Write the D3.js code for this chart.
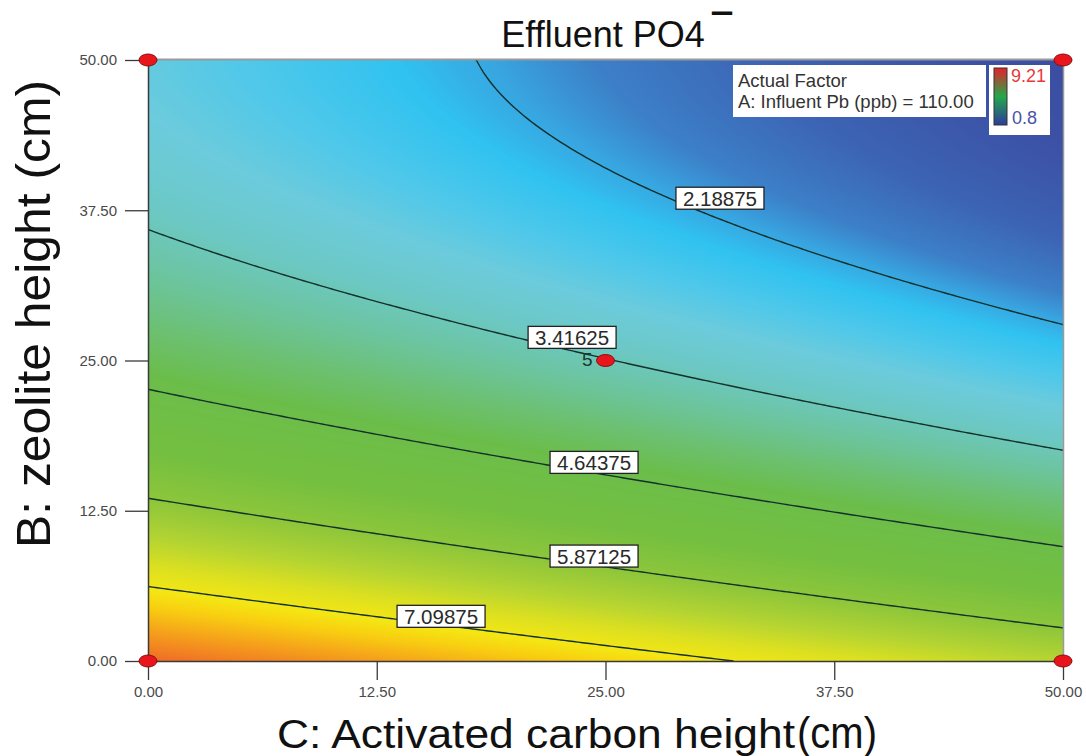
<!DOCTYPE html>
<html>
<head>
<meta charset="utf-8">
<script src="https://cdn.jsdelivr.net/npm/d3@7"></script>
<style>
  body { margin: 0; background: #fff; }
  svg { display: block; }
  text { font-family: "Liberation Sans", Arial, Helvetica, sans-serif; }
</style>
</head>
<body>
<svg id="chart" width="1086" height="756"></svg>
<script>
// Response grid: effluent PO4 over C (activated carbon height, columns) and B (zeolite height, rows, bottom to top)
const gridC = [0, 5, 10, 15, 20, 25, 30, 35, 40, 45, 50];
const gridB = [0, 5, 10, 15, 20, 25, 30, 35, 40, 45, 50];
const effluent = [
  [8.298, 8.110, 7.923, 7.735, 7.548, 7.360, 7.173, 6.985, 6.798, 6.610, 6.423],
  [7.319, 7.132, 6.944, 6.757, 6.569, 6.382, 6.194, 6.007, 5.819, 5.632, 5.444],
  [6.437, 6.250, 6.062, 5.875, 5.687, 5.500, 5.312, 5.125, 4.937, 4.750, 4.562],
  [5.652, 5.465, 5.277, 5.090, 4.902, 4.715, 4.527, 4.340, 4.152, 3.965, 3.777],
  [4.964, 4.776, 4.589, 4.401, 4.214, 4.026, 3.839, 3.651, 3.464, 3.276, 3.089],
  [4.372, 4.184, 3.997, 3.809, 3.622, 3.434, 3.247, 3.059, 2.872, 2.684, 2.497],
  [3.876, 3.689, 3.501, 3.314, 3.126, 2.939, 2.751, 2.564, 2.376, 2.189, 2.001],
  [3.478, 3.290, 3.103, 2.915, 2.728, 2.540, 2.353, 2.165, 1.978, 1.790, 1.603],
  [3.176, 2.988, 2.801, 2.613, 2.426, 2.238, 2.051, 1.863, 1.676, 1.488, 1.301],
  [2.970, 2.783, 2.595, 2.408, 2.220, 2.033, 1.845, 1.658, 1.470, 1.283, 1.095],
  [2.862, 2.674, 2.487, 2.299, 2.112, 1.924, 1.737, 1.549, 1.362, 1.174, 0.987]
];

// Contour levels and the C value where each level's label sits
const levels = [2.18875, 3.41625, 4.64375, 5.87125, 7.09875];
const labelC = [28.85, 20.77, 21.97, 21.97, 13.61];

// Design points (C, B) and replicate count
const designPoints = [
  { c: 0, b: 0, n: 1 }, { c: 50, b: 0, n: 1 },
  { c: 0, b: 50, n: 1 }, { c: 50, b: 50, n: 1 },
  { c: 25, b: 25, n: 5 }
];

const axisTicks = [0, 12.5, 25, 37.5, 50];
const legendLines = ["Actual Factor", "A: Influent Pb (ppb) = 110.00"];
const rangeMax = 9.21, rangeMin = 0.8;

// Colour ramp for the response surface
const rampValues = [0.8, 1.2, 1.6, 1.95, 2.15, 2.35, 2.65, 2.95, 3.3, 3.7, 4.1, 4.5, 5.3, 5.9, 6.4, 6.8, 7.15, 7.4, 7.7, 8.0, 8.3];
const rampColors = ["#3a4a9e", "#3c52a6", "#3c64b4", "#3c80c8", "#38a4e0", "#30c2f0", "#4ec8ea", "#6ccbdc",
                    "#6cc8c4", "#6cc49c", "#6cc070", "#6bbd4a", "#74bf40", "#8ec63a", "#b4d432", "#dce020",
                    "#f4e614", "#f8d010", "#f6ac18", "#f38a20", "#ee6a28"];

const svg = d3.select("#chart");
const L = 148, R = 1063, T = 60, B = 661;
const x = d3.scaleLinear().domain([0, 50]).range([L, R]);
const y = d3.scaleLinear().domain([0, 50]).range([B, T]);
const color = d3.scaleLinear().domain(rampValues).range(rampColors).interpolate(d3.interpolateRgb).clamp(true);

// Grid padded by one ring (quadratic extrapolation) for Catmull-Rom sampling
const nG = gridC.length;
function extend(a) {
  const n = a.length - 1;
  return [3 * a[0] - 3 * a[1] + a[2], ...a, 3 * a[n] - 3 * a[n - 1] + a[n - 2]];
}
const rowsExt = effluent.map(extend);
const padded = d3.range(nG + 2).map(() => new Array(nG + 2));
for (let i = 0; i < nG + 2; i++) {
  const col = extend(rowsExt.map(r => r[i]));
  for (let j = 0; j < nG + 2; j++) padded[j][i] = col[j];
}
function cr(p0, p1, p2, p3, u) {
  return 0.5 * (2 * p1 + (-p0 + p2) * u + (2 * p0 - 5 * p1 + 4 * p2 - p3) * u * u + (-p0 + 3 * p1 - 3 * p2 + p3) * u * u * u);
}
function valueAt(c, b) {
  const step = gridC[1] - gridC[0];
  const fi = c / step, fj = b / step;
  const i = Math.min(Math.max(Math.floor(fi), 0), nG - 2);
  const j = Math.min(Math.max(Math.floor(fj), 0), nG - 2);
  const u = fi - i, v = fj - j;
  const r = [];
  for (let k = 0; k < 4; k++) {
    const row = padded[j + k];
    r.push(cr(row[i], row[i + 1], row[i + 2], row[i + 3], u));
  }
  return cr(r[0], r[1], r[2], r[3], v);
}

// --- filled surface on a canvas, placed into the svg as an image
const pw = R - L, ph = B - T;
const canvas = document.createElement("canvas");
canvas.width = pw; canvas.height = ph;
const ctx = canvas.getContext("2d");
const img = ctx.createImageData(pw, ph);
const lutN = 1024, lo = 0.5, hi = 9.5;
const lut = d3.range(lutN).map(k => d3.rgb(color(lo + (hi - lo) * k / (lutN - 1))));
for (let py = 0; py < ph; py++) {
  const bv = y.invert(T + py + 0.5);
  for (let px = 0; px < pw; px++) {
    const cv = x.invert(L + px + 0.5);
    const val = valueAt(cv, bv);
    const k = Math.max(0, Math.min(lutN - 1, Math.round((val - lo) / (hi - lo) * (lutN - 1))));
    const col = lut[k];
    const o = (py * pw + px) * 4;
    img.data[o] = col.r; img.data[o + 1] = col.g; img.data[o + 2] = col.b; img.data[o + 3] = 255;
  }
}
ctx.putImageData(img, 0, 0);
svg.append("image")
  .attr("x", L).attr("y", T).attr("width", pw).attr("height", ph)
  .attr("preserveAspectRatio", "none")
  .attr("href", canvas.toDataURL());

svg.append("clipPath").attr("id", "plotClip")
  .append("rect").attr("x", L).attr("y", T).attr("width", pw).attr("height", ph);

// --- contour lines
const fineN = 201, fineStep = 50 / (fineN - 1);
const fine = new Float64Array(fineN * fineN);
for (let j = 0; j < fineN; j++)
  for (let i = 0; i < fineN; i++)
    fine[i + j * fineN] = valueAt(i * fineStep, j * fineStep);
const contours = d3.contours().size([fineN, fineN]).thresholds(levels)(fine);
const proj = d3.geoTransform({
  point(px, py) { this.stream.point(x((px - 0.5) * fineStep), y((py - 0.5) * fineStep)); }
});
svg.append("g").attr("clip-path", "url(#plotClip)")
  .selectAll("path").data(contours).join("path")
  .attr("d", d3.geoPath(proj))
  .attr("fill", "none")
  .attr("stroke", "#13302a")
  .attr("stroke-width", 1.4)
  .attr("stroke-linejoin", "round");

// --- frame
svg.append("line").attr("x1", L).attr("x2", R).attr("y1", T - 0.5).attr("y2", T - 0.5)
  .attr("stroke", "#9a9a9a").attr("stroke-width", 2);
svg.append("line").attr("x1", R + 0.5).attr("x2", R + 0.5).attr("y1", T).attr("y2", B)
  .attr("stroke", "#9a9a9a").attr("stroke-width", 1.5);

// --- axes
const fmt = d3.format(".2f");
const gy = svg.append("g").attr("transform", `translate(${L},0)`)
  .call(d3.axisLeft(y).tickValues(axisTicks).tickFormat(fmt).tickSize(23).tickSizeOuter(0).tickPadding(8));
const gx = svg.append("g").attr("transform", `translate(0,${B})`)
  .call(d3.axisBottom(x).tickValues(axisTicks).tickFormat(fmt).tickSize(19).tickSizeOuter(0).tickPadding(6));
[gx, gy].forEach(g => {
  g.select(".domain").attr("stroke", "#3a3a3a").attr("stroke-width", 1.5);
  g.selectAll(".tick line").attr("stroke", "#3a3a3a").attr("stroke-width", 1.3);
  g.selectAll(".tick text").attr("fill", "#4a4a4a").style("font-size", "15px")
    .style("font-family", "\"Liberation Sans\", Arial, sans-serif");
});

// --- contour labels
levels.forEach((lev, k) => {
  const c = labelC[k];
  let a = 0, bb = 50;
  for (let it = 0; it < 40; it++) {
    const m = (a + bb) / 2;
    if (valueAt(c, m) > lev) a = m; else bb = m;
  }
  const px = x(c), py = y((a + bb) / 2) - 3;
  const g = svg.append("g");
  g.append("rect").attr("x", px).attr("y", py - 11).attr("width", 88).attr("height", 22)
    .attr("fill", "#fff").attr("stroke", "#222").attr("stroke-width", 1.3);
  g.append("text").attr("x", px + 44).attr("y", py + 7.5).attr("text-anchor", "middle")
    .attr("fill", "#2a2a2a").style("font-size", "20.5px").text(String(lev));
});

// --- design points
svg.append("g").selectAll("ellipse").data(designPoints).join("ellipse")
  .attr("cx", d => x(d.c)).attr("cy", d => y(d.b))
  .attr("rx", 9).attr("ry", 6)
  .attr("fill", "#e8161c").attr("stroke", "#8a0a0a").attr("stroke-width", 1);
svg.append("g").selectAll("text").data(designPoints.filter(d => d.n > 1)).join("text")
  .attr("x", d => x(d.c) - 13).attr("y", d => y(d.b) + 5)
  .attr("text-anchor", "end").attr("fill", "#1b3b2b").style("font-size", "19px")
  .text(d => d.n);

// --- factor legend and colour range
svg.append("rect").attr("x", 733).attr("y", 65).attr("width", 253).attr("height", 52).attr("fill", "#fff");
svg.append("g").selectAll("text").data(legendLines).join("text")
  .attr("x", 738).attr("y", (d, i) => 87 + i * 21)
  .attr("fill", "#333").style("font-size", "18.5px").text(d => d);

const defs = svg.append("defs");
const grad = defs.append("linearGradient").attr("id", "rangeGrad")
  .attr("x1", 0).attr("y1", 0).attr("x2", 0).attr("y2", 1);
grad.append("stop").attr("offset", "0%").attr("stop-color", "#e8202a");
grad.append("stop").attr("offset", "50%").attr("stop-color", "#22a84a");
grad.append("stop").attr("offset", "100%").attr("stop-color", "#2c3c9c");
svg.append("rect").attr("x", 989).attr("y", 65).attr("width", 61).attr("height", 70).attr("fill", "#fff");
svg.append("rect").attr("x", 994).attr("y", 68).attr("width", 13).attr("height", 57)
  .attr("fill", "url(#rangeGrad)").attr("stroke", "#333").attr("stroke-width", 1);
svg.append("text").attr("x", 1011).attr("y", 82).attr("fill", "#e83838").style("font-size", "18px").text(rangeMax);
svg.append("text").attr("x", 1012).attr("y", 124).attr("fill", "#4a52a8").style("font-size", "18px").text(rangeMin);

// --- titles
svg.append("text").attr("x", 603).attr("y", 47).attr("text-anchor", "middle")
  .attr("fill", "#111").style("font-size", "36px").text("Effluent PO4");
svg.append("text").attr("x", 711).attr("y", 21)
  .attr("fill", "#111").style("font-size", "23px").style("font-weight", "bold")
  .attr("stroke", "#111").attr("stroke-width", 0.9)
  .attr("textLength", 22).attr("lengthAdjust", "spacingAndGlyphs")
  .text("\u2212");

svg.append("text").attr("x", 277).attr("y", 748)
  .attr("fill", "#111").style("font-size", "40px")
  .attr("textLength", 518).attr("lengthAdjust", "spacingAndGlyphs")
  .text("C: Activated carbon height");
svg.append("text").attr("x", 797).attr("y", 748)
  .attr("fill", "#111").style("font-size", "44px")
  .attr("textLength", 80).attr("lengthAdjust", "spacingAndGlyphs")
  .text("(cm)");

svg.append("text").attr("transform", "translate(50,314) rotate(-90)")
  .attr("text-anchor", "middle").attr("fill", "#111").style("font-size", "48px")
  .attr("textLength", 468).attr("lengthAdjust", "spacingAndGlyphs")
  .text("B: zeolite height (cm)");
</script>
</body>
</html>
